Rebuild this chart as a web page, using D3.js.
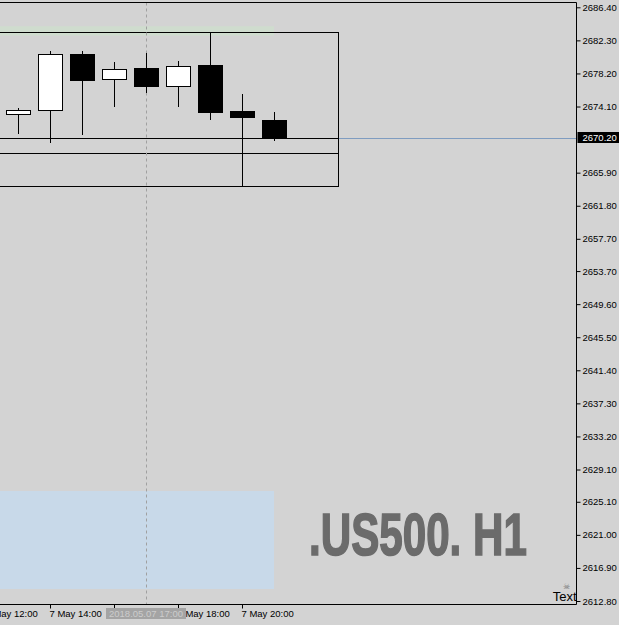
<!DOCTYPE html>
<html>
<head>
<meta charset="utf-8">
<script src="https://cdn.jsdelivr.net/npm/d3@7"></script>
<style>
body { margin: 0; background: #d3d3d3; }
svg { display: block; }
text { font-family: "Liberation Sans", Arial, sans-serif; }
</style>
</head>
<body>
<script>

// hourly candles, 7 May 2018
var times  = ["2018-05-07T13:00", "2018-05-07T14:00", "2018-05-07T15:00", "2018-05-07T16:00", "2018-05-07T17:00",
              "2018-05-07T18:00", "2018-05-07T19:00", "2018-05-07T20:00", "2018-05-07T21:00"];
var opens  = [2673.13, 2673.63, 2680.61, 2677.55, 2678.87, 2676.68, 2679.24, 2673.54, 2672.43];
var highs  = [2673.88, 2680.98, 2680.98, 2679.62, 2680.73, 2679.74, 2683.30, 2675.61, 2673.42];
var lows   = [2670.73, 2669.61, 2670.60, 2674.07, 2675.81, 2674.07, 2672.46, 2664.21, 2669.86];
var closes = [2673.63, 2680.57, 2677.42, 2678.71, 2676.68, 2679.08, 2673.42, 2672.83, 2670.20];

var priceTicks = [2686.40, 2682.30, 2678.20, 2674.10, 2665.90, 2661.80, 2657.70, 2653.70, 2649.60,
                  2645.50, 2641.40, 2637.30, 2633.20, 2629.10, 2625.10, 2621.00, 2616.90, 2612.80];
// the 16:00 label sits fully under the crosshair label, so it stays blank
var timeTicks = ["2018-05-07T12:00", "2018-05-07T14:00", "2018-05-07T16:00", "2018-05-07T18:00", "2018-05-07T20:00"];
var timeTickLabels = ["7 May 12:00", "7 May 14:00", "", "7 May 18:00", "7 May 20:00"];

var currentPrice = 2670.20;
var crossTime = "2018-05-07T17:00";
var crossLabel = "2018.05.07 17:00";

// chart objects
var boxTop = 2683.30, boxBottom = 2664.21, boxStart = "2018-05-07T09:00", boxEnd = "2018-05-07T23:00";
var hLines = [2670.20, 2668.33];
var greenBand = [2684.05, 2682.88], greenEnd = "2018-05-07T21:00";
var blueBand = [2626.44, 2614.29], blueEnd = "2018-05-07T21:00";
var watermark = ".US500. H1";

var width = 619, height = 625;
var plotRight = 576.5, plotBottom = 604.5, plotTop = 2.5;

var parse = d3.utcParse("%Y-%m-%dT%H:%M");

var x = d3.scaleUtc()
    .domain([parse(times[0]), parse(times[8])])
    .range([18, 274]);

var y = d3.scaleLinear()
    .domain([2612.8, 2686.4])
    .range([601, 7.3]);

var svg = d3.select("body").append("svg")
    .attr("width", width)
    .attr("height", height);

svg.append("rect").attr("width", width).attr("height", height).attr("fill", "#d3d3d3");

var plot = svg.append("g");

// light bands
plot.append("rect")
    .attr("x", x(parse(boxStart)))
    .attr("y", y(greenBand[0]))
    .attr("width", x(parse(greenEnd)) - x(parse(boxStart)))
    .attr("height", y(greenBand[1]) - y(greenBand[0]))
    .attr("fill", "#cfdcce");

plot.append("rect")
    .attr("x", x(parse(boxStart)))
    .attr("y", y(blueBand[0]))
    .attr("width", x(parse(blueEnd)) - x(parse(boxStart)))
    .attr("height", y(blueBand[1]) - y(blueBand[0]))
    .attr("fill", "#c8d9e9");

// watermark, squeezed horizontally
var wm = plot.append("text")
    .attr("x", 0)
    .attr("y", 0)
    .attr("font-family", "Liberation Sans, sans-serif")
    .attr("font-weight", "bold")
    .attr("font-size", 59)
    .attr("fill", "#6b6b6b")
    .attr("stroke", "#6b6b6b")
    .attr("stroke-width", 1.6)
    .text(watermark);
var wmLen = wm.node().getComputedTextLength();
wm.attr("transform", "translate(309,555) scale(" + (218 / wmLen) + ",1)");

// current price line
plot.append("line")
    .attr("x1", 0).attr("x2", plotRight)
    .attr("y1", Math.round(y(currentPrice)) + 0.5).attr("y2", Math.round(y(currentPrice)) + 0.5)
    .attr("stroke", "#7f9cc0");

// box and lines
plot.append("rect")
    .attr("x", x(parse(boxStart)))
    .attr("y", Math.round(y(boxTop)) + 0.5)
    .attr("width", Math.round(x(parse(boxEnd)) - x(parse(boxStart))) + 0.5)
    .attr("height", Math.round(y(boxBottom)) - Math.round(y(boxTop)))
    .attr("fill", "none")
    .attr("stroke", "#000");

hLines.forEach(function(p) {
  plot.append("line")
      .attr("x1", 0).attr("x2", Math.round(x(parse(boxEnd))) + 0.5)
      .attr("y1", Math.round(y(p)) + 0.5).attr("y2", Math.round(y(p)) + 0.5)
      .attr("stroke", "#000");
});

// crosshair
var cx = Math.round(x(parse(crossTime))) + 0.5;
plot.append("line")
    .attr("x1", cx).attr("x2", cx)
    .attr("y1", plotTop).attr("y2", plotBottom)
    .attr("stroke", "#a0a0a0")
    .attr("stroke-dasharray", "3,3");

// candles
var candles = times.map(function(t, i) {
  return {t: parse(t), o: opens[i], h: highs[i], l: lows[i], c: closes[i]};
});

var g = plot.selectAll(".candle").data(candles).enter().append("g");

g.append("line")
    .attr("x1", function(d) { return Math.round(x(d.t)) + 0.5; })
    .attr("x2", function(d) { return Math.round(x(d.t)) + 0.5; })
    .attr("y1", function(d) { return Math.round(y(d.h)); })
    .attr("y2", function(d) { return Math.round(y(d.l)); })
    .attr("stroke", "#000");

g.append("rect")
    .attr("x", function(d) { return Math.round(x(d.t)) - 11.5; })
    .attr("y", function(d) { return Math.round(y(Math.max(d.o, d.c))) + 0.5; })
    .attr("width", 24)
    .attr("height", function(d) { return Math.max(1, Math.round(y(Math.min(d.o, d.c))) - Math.round(y(Math.max(d.o, d.c)))); })
    .attr("fill", function(d) { return d.c >= d.o ? "#fff" : "#000"; })
    .attr("stroke", "#000");

// frame
svg.append("line").attr("x1", 0).attr("x2", plotRight).attr("y1", plotTop).attr("y2", plotTop).attr("stroke", "#000");
svg.append("line").attr("x1", plotRight).attr("x2", plotRight).attr("y1", plotTop).attr("y2", plotBottom).attr("stroke", "#000");
svg.append("line").attr("x1", 0).attr("x2", plotRight).attr("y1", plotBottom).attr("y2", plotBottom).attr("stroke", "#000");

// price axis
var yAxis = d3.axisRight(y)
    .tickValues(priceTicks)
    .tickSize(4)
    .tickPadding(2)
    .tickFormat(d3.format(".2f"));

var ya = svg.append("g")
    .attr("transform", "translate(" + plotRight + ",0)")
    .call(yAxis);
ya.select(".domain").remove();
ya.selectAll("line").attr("stroke", "#000");
ya.selectAll("text")
    .attr("font-family", "Liberation Sans, sans-serif")
    .attr("font-size", 9.5)
    .attr("fill", "#000");

// current price label
svg.append("rect")
    .attr("x", plotRight + 1)
    .attr("y", Math.round(y(currentPrice)) - 6)
    .attr("width", 42)
    .attr("height", 11)
    .attr("fill", "#000");
svg.append("text")
    .attr("x", plotRight + 6)
    .attr("y", y(currentPrice))
    .attr("dy", "0.32em")
    .attr("font-size", 9.5)
    .attr("fill", "#fff")
    .text(d3.format(".2f")(currentPrice));

// time axis
var xAxis = d3.axisBottom(x)
    .tickValues(timeTicks.map(parse))
    .tickSize(4)
    .tickFormat(function(d, i) { return timeTickLabels[i]; });

var xa = svg.append("g")
    .attr("transform", "translate(0," + plotBottom + ")")
    .call(xAxis);
xa.select(".domain").remove();
xa.selectAll("line").attr("stroke", "#000");
xa.selectAll("text")
    .attr("text-anchor", "start")
    .attr("x", -1)
    .attr("y", 12.5)
    .attr("dy", null)
    .attr("font-family", "Liberation Sans, sans-serif")
    .attr("font-size", 9.5)
    .attr("fill", "#000");

// crosshair time label (covers the labels beneath it)
svg.append("rect")
    .attr("x", x(parse(crossTime)) - 40)
    .attr("y", 608)
    .attr("width", 80)
    .attr("height", 11)
    .attr("fill", "#a4a4a4");
svg.append("text")
    .attr("x", x(parse(crossTime)))
    .attr("y", 617)
    .attr("text-anchor", "middle")
    .attr("font-size", 9.5)
    .attr("fill", "#cccccc")
    .text(crossLabel);

// "Text" object
svg.append("text")
    .attr("x", plotRight - 10)
    .attr("y", 589)
    .attr("text-anchor", "middle")
    .attr("font-family", "DejaVu Sans, sans-serif")
    .attr("font-size", 8)
    .attr("fill", "#777")
    .text("\u2620");
svg.append("text")
    .attr("x", plotRight)
    .attr("y", 601)
    .attr("text-anchor", "end")
    .attr("font-size", 13)
    .attr("fill", "#000")
    .text("Text");

</script>
</body>
</html>
